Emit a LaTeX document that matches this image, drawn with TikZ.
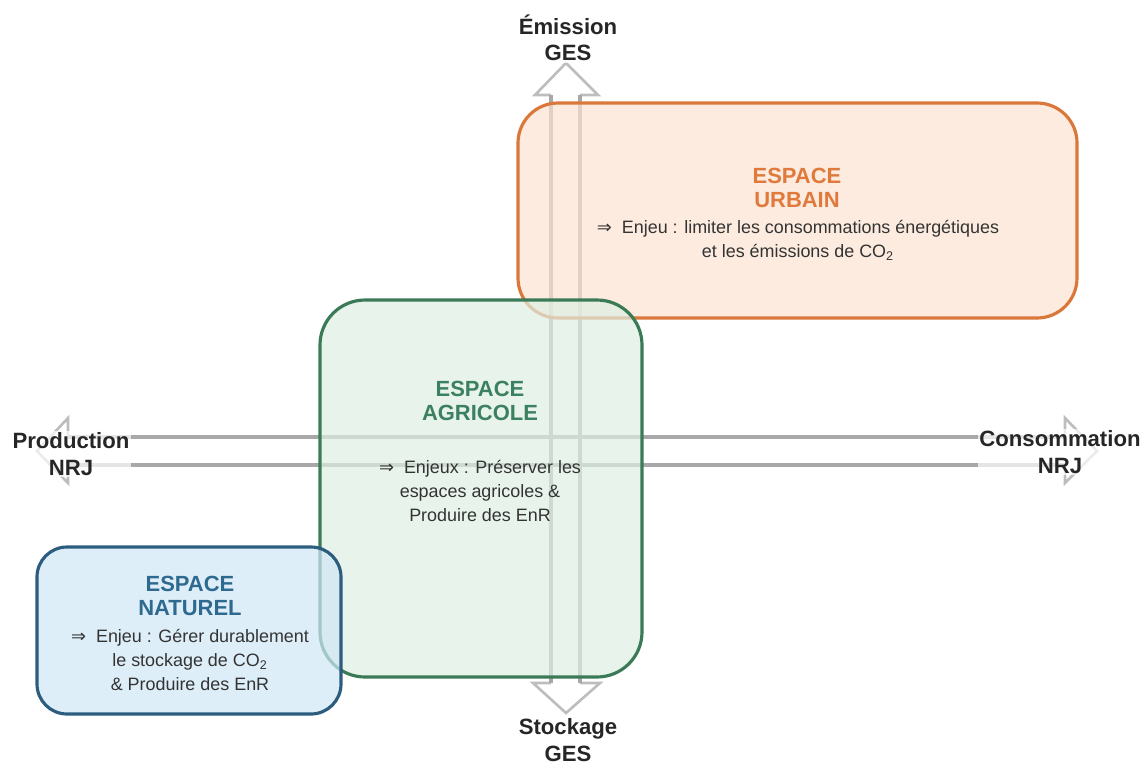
\documentclass[tikz,border=0pt]{standalone}
\usepackage{fontspec}
\setmainfont{Liberation Sans}
\newfontfamily\symfont{DejaVu Sans}
\definecolor{urbLine}{HTML}{D9783A}
\definecolor{urbFill}{HTML}{FBE2D0}
\definecolor{urbText}{HTML}{E07A3C}
\definecolor{agrLine}{HTML}{3B7A57}
\definecolor{agrFill}{HTML}{DEEFE3}
\definecolor{agrText}{HTML}{3B8060}
\definecolor{natLine}{HTML}{2C5D7F}
\definecolor{natFill}{HTML}{D0E7F6}
\definecolor{natText}{HTML}{2E6A90}
\definecolor{axisHead}{HTML}{BDBDBD}
\definecolor{axisShaft}{HTML}{A8A8A8}
\definecolor{bodyText}{HTML}{333333}
\newcommand{\implies}{{\symfont\char"21D2}}
\tikzset{
  zone/.style={line width=1.8pt, fill opacity=0.7},
  zonetitle/.style={font=\fontsize{12.5}{13.6}\selectfont\bfseries, align=center, inner sep=0pt},
  zonebody/.style={font=\fontsize{10.2}{13.9}\selectfont, text=bodyText, align=center, inner sep=0pt},
  axislabel/.style={font=\fontsize{12.6}{15}\selectfont\bfseries, text=black!85, align=center,
    inner sep=1pt, fill=white, fill opacity=0.7, text opacity=1},
  arrowhead/.style={draw=axisHead, line width=1.5pt, line join=miter},
  arrowshaft/.style={draw=axisShaft, line width=1.8pt}
}
\begin{document}
\begin{tikzpicture}[x=0.02cm, y=-0.02cm]
\useasboundingbox (0,0) rectangle (1143,765);

% vertical axis: GES emission / storage (hollow double arrow)
\coordinate (vTop) at (566,63);
\coordinate (vBot) at (566,713);
\draw[arrowhead] (551,95) -- (535,95) -- (vTop) -- (598,95) -- (580,95);
\draw[arrowhead] (551,683) -- (533,683) -- (vBot) -- (600,683) -- (580,683);
\draw[arrowshaft] (551,95) -- (551,683);
\draw[arrowshaft] (580,95) -- (580,683);

% horizontal axis: energy production / consumption
\coordinate (hLeft) at (37,451);
\coordinate (hRight) at (1097,451);
\draw[arrowhead] (68,437) -- (68,418) -- (hLeft) -- (68,483) -- (68,465);
\draw[arrowhead] (1065,437) -- (1065,418) -- (hRight) -- (1065,483) -- (1065,465);
\draw[arrowshaft] (68,437) -- (1065,437);
\draw[arrowshaft] (68,465) -- (1065,465);

% zones, each one laid over the previous
\draw[zone, draw=urbLine, fill=urbFill, rounded corners=0.8cm] (518,103) rectangle (1077,318);
\draw[zone, draw=agrLine, fill=agrFill, rounded corners=0.9cm] (320,300) rectangle (642,677);
\draw[zone, draw=natLine, fill=natFill, rounded corners=0.6cm] (37,547) rectangle (341,714);

% zone texts
\node[zonetitle, text=urbText] (urbT) at (797,188) {ESPACE\\URBAIN};
\node[zonebody] (urbB) at (798,240) {\implies{} \ Enjeu : limiter les consommations énergétiques\\et les émissions de CO\textsubscript{2}};

\node[zonetitle, text=agrText] (agrT) at (480,401) {ESPACE\\AGRICOLE};
\node[zonebody] (agrB) at (480,491) {\implies{} \ Enjeux : Préserver les\\espaces agricoles \&\\Produire des EnR};

\node[zonetitle, text=natText] (natT) at (190,596) {ESPACE\\NATUREL};
\node[zonebody] (natB) at (190,660) {\implies{} \ Enjeu : Gérer durablement\\le stockage de CO\textsubscript{2}\\\& Produire des EnR};

% axis labels
\node[axislabel] (emis) at (568,38) {Émission\\GES};
\node[axislabel] (stock) at (568,740) {Stockage\\GES};
\node[axislabel] (prod) at (71,454) {Production\\NRJ};
\node[axislabel] (cons) at (1060,452) {Consommation\\NRJ};
\end{tikzpicture}
\end{document}
